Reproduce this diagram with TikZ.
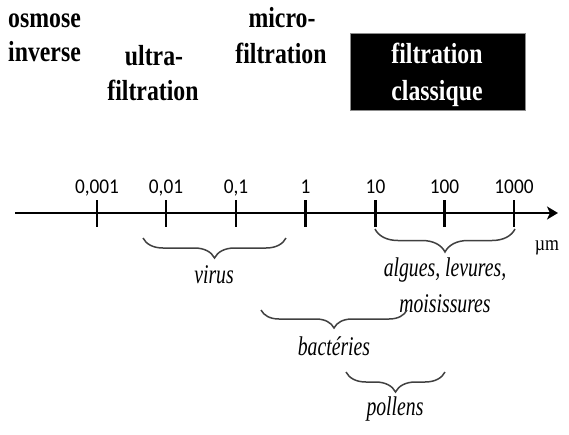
\documentclass[tikz,border=0pt]{standalone}
\usepackage{fontspec}
\setmainfont{Liberation Serif}
\newfontfamily\hdf[FakeStretch=0.82]{Liberation Serif}
\newfontfamily\itf[FakeStretch=0.73]{Liberation Serif}
\newfontfamily\unitf[FakeStretch=0.85]{Liberation Serif}
\newfontfamily\numf[FakeStretch=0.92]{Carlito}
\usetikzlibrary{arrows.meta,decorations.pathreplacing}
\tikzset{
 hd/.style={font=\hdf\bfseries\fontsize{29}{32}\selectfont, anchor=base, inner sep=0pt},
 hdl/.style={hd, anchor=base west},
 lab/.style={font=\itf\itshape\fontsize{27}{30}\selectfont, anchor=base, inner sep=0pt, text=black},
 num/.style={font=\numf\fontsize{21}{24}\selectfont, anchor=base, inner sep=0pt},
 axisline/.style={line width=2.6pt},
 tickline/.style={line width=2.6pt},
 br/.style={decorate, decoration={brace, mirror, amplitude=#1}, line width=1.5pt, draw=black!75},
 boxstyle/.style={fill=black, draw=black!45, line width=0.8pt, minimum width=175pt, minimum height=77pt, inner sep=0pt}
}
\begin{document}
\begin{tikzpicture}[x=1pt,y=-1pt]
\useasboundingbox (0,0) rectangle (569,434);
% headings
\node[hdl] (osm1) at (8,27) {osmose};
\node[hdl] (osm2) at (8,61) {inverse};
\node[hd] (ult1) at (154,65) {ultra-};
\node[hd] (ult2) at (153,100) {filtration};
\node[hd] (mic1) at (282,27) {micro-};
\node[hd] (mic2) at (281,63) {filtration};
\node[boxstyle] (box) at (437.5,71.5) {};
\node[hd, text=white] (cl1) at (437,63) {filtration};
\node[hd, text=white] (cl2) at (437,100) {classique};
% axis
\coordinate (a0) at (15,213);
\coordinate (a1) at (558,213);
\draw[axisline, -{Stealth[length=11pt,width=13pt,inset=3pt]}] (a0) -- (a1);
\foreach \n/\x/\t in {1/97/{0,001},2/166/{0,01},3/236/{0,1},4/305.5/1,5/375.5/10,6/444.5/100,7/514/1000}{
  \coordinate (tt\n) at (\x,200);
  \coordinate (tb\n) at (\x,227);
  \draw[tickline] (tt\n) -- (tb\n);
  \node[num] (n\n) at (\x,193) {\t};
}
\node[font=\unitf\fontsize{21}{24}\selectfont, anchor=base, inner sep=0pt] (unit) at (547,250) {µm};
% braces
\coordinate (v0) at (143,238); \coordinate (v1) at (286,238);
\draw[br=20pt] (v0) -- (v1);
\node[lab] (virus) at (214,283) {virus};
\coordinate (g0) at (375,229); \coordinate (g1) at (515,229);
\draw[br=23pt] (g0) -- (g1);
\node[lab] (alg1) at (445,276) {algues, levures,};
\node[lab] (alg2) at (445,312) {moisissures};
\coordinate (b0) at (261,310); \coordinate (b1) at (407,310);
\draw[br=18pt] (b0) -- (b1);
\node[lab] (bac) at (334,355) {bactéries};
\coordinate (p0) at (346,372); \coordinate (p1) at (445,372);
\draw[br=20pt] (p0) -- (p1);
\node[lab] (pol) at (395,415) {pollens};
\end{tikzpicture}
\end{document}
